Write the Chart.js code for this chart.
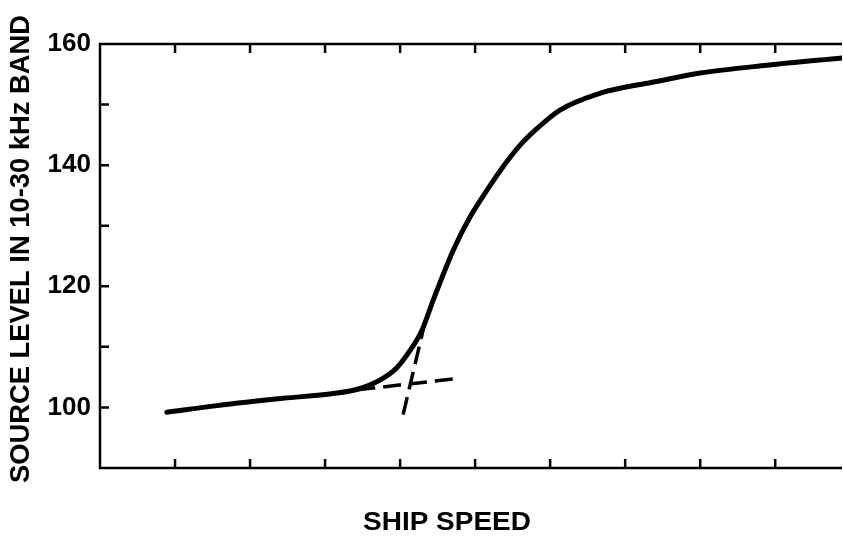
<!DOCTYPE html>
<html>
<head>
<meta charset="utf-8">
<script src="https://cdn.jsdelivr.net/npm/chart.js@4"></script>
<style>
  html, body { margin: 0; background: #fff; }
  canvas { display: block; }
</style>
</head>
<body>
<canvas id="speedChart" width="843" height="536"></canvas>
<script>
// measured curve: source level vs ship speed (arbitrary speed units)
const speed = [0.89, 1.56, 2.44, 3.11, 3.43, 3.73, 3.96, 4.16, 4.29, 4.45, 4.71, 4.93,
  5.16, 5.37, 5.6, 5.83, 6.13, 6.67, 6.93, 7.33, 8.0, 8.89, 9.89];
const level = [99.2, 100.3, 101.5, 102.3, 103.0, 104.5, 106.6, 109.9, 112.7, 118.0, 126.0, 131.4,
  135.9, 139.7, 143.3, 146.1, 149.1, 151.9, 152.7, 153.6, 155.2, 156.5, 157.7];

// dashed construction lines (low-speed trend and cavitation onset slope)
const lowTrendX = [3.43, 4.77];
const lowTrendY = [102.9, 104.8];
const onsetX = [4.04, 4.33];
const onsetY = [98.8, 114.0];

const labeledLevels = [100, 120, 140, 160];

const yTitle = "SOURCE LEVEL IN 10-30 kHz BAND";
const xTitle = "SHIP SPEED";

function toPoints(xs, ys) {
  return xs.map((x, i) => ({ x: x, y: ys[i] }));
}

// draws text squeezed or stretched to a given width
function fitText(ctx, text, cx, cy, width, angle) {
  ctx.save();
  ctx.translate(cx, cy);
  ctx.rotate(angle);
  const w = ctx.measureText(text).width;
  ctx.scale(width / w, 1);
  ctx.textAlign = "center";
  ctx.textBaseline = "middle";
  ctx.fillText(text, 0, 0);
  ctx.restore();
}

const framePlugin = {
  id: "frame",
  afterDraw(chart) {
    const { ctx, chartArea: a, scales } = chart;
    ctx.save();
    ctx.strokeStyle = "#000";
    ctx.lineWidth = 2.5;
    ctx.lineCap = "butt";

    // frame: left, bottom, top
    ctx.beginPath();
    ctx.moveTo(a.right, a.top);
    ctx.lineTo(a.left, a.top);
    ctx.lineTo(a.left, a.bottom);
    ctx.lineTo(a.right, a.bottom);
    ctx.stroke();

    // inward tick marks
    const len = 9;
    ctx.beginPath();
    scales.x.ticks.forEach(t => {
      if (t.value <= scales.x.min || t.value >= scales.x.max) return;
      const px = scales.x.getPixelForValue(t.value);
      ctx.moveTo(px, a.bottom);
      ctx.lineTo(px, a.bottom - len);
      ctx.moveTo(px, a.top);
      ctx.lineTo(px, a.top + len);
    });
    scales.y.ticks.forEach(t => {
      if (t.value <= scales.y.min || t.value >= scales.y.max) return;
      const py = scales.y.getPixelForValue(t.value);
      ctx.moveTo(a.left, py);
      ctx.lineTo(a.left + len, py);
    });
    ctx.stroke();

    // axis titles
    ctx.fillStyle = "#000";
    ctx.font = "bold 27px 'Liberation Sans', sans-serif";
    fitText(ctx, yTitle, 22, 249, 468, -Math.PI / 2);
    ctx.font = "bold 26px 'Liberation Sans', sans-serif";
    fitText(ctx, xTitle, 447, 523, 168, 0);
    ctx.restore();
  }
};

const ctx = document.getElementById("speedChart").getContext("2d");

new Chart(ctx, {
  type: "line",
  data: {
    datasets: [
      {
        data: toPoints(speed, level),
        borderColor: "#000",
        borderWidth: 5,
        cubicInterpolationMode: "monotone",
        borderCapStyle: "round",
        pointRadius: 0
      },
      {
        data: toPoints(lowTrendX, lowTrendY),
        borderColor: "#000",
        borderWidth: 3.5,
        borderDash: [18, 8],
        pointRadius: 0
      },
      {
        data: toPoints(onsetX, onsetY),
        borderColor: "#000",
        borderWidth: 3.5,
        borderDash: [18, 8],
        pointRadius: 0
      }
    ]
  },
  options: {
    responsive: false,
    animation: false,
    devicePixelRatio: 1,
    layout: { padding: { top: 44, right: 1, left: 0, bottom: 0 } },
    plugins: {
      legend: { display: false },
      tooltip: { enabled: false }
    },
    scales: {
      x: {
        type: "linear",
        min: 0,
        max: 9.89,
        grid: { display: false },
        border: { display: false },
        ticks: { display: false, stepSize: 1 },
        afterFit(scale) { scale.height = 68; }
      },
      y: {
        min: 90,
        max: 160,
        grid: { display: false, drawTicks: false },
        border: { display: false },
        ticks: {
          stepSize: 10,
          padding: 9,
          color: "#000",
          font: { family: "'Liberation Sans', sans-serif", size: 26, weight: "bold" },
          callback: v => (labeledLevels.includes(v) ? v : "")
        },
        afterFit(scale) { scale.width = 100; }
      }
    }
  },
  plugins: [framePlugin]
});
</script>
</body>
</html>
